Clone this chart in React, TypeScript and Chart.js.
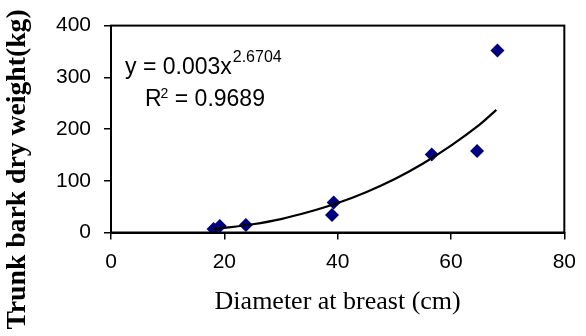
import React, { useEffect, useRef } from 'react';
import { Chart, registerables } from 'chart.js';

Chart.register(...registerables);

const diameters = [18.1, 19.2, 23.8, 39.0, 39.3, 56.6, 64.6, 68.2];
const weights = [6.7, 12.5, 14.5, 33.7, 58.2, 151, 157.6, 352];

const trendDiameters = [18, 20, 25, 30, 35, 40, 45, 50, 55, 60, 65, 68];
const trendWeights = [6.8, 9, 16, 26, 40, 57, 78, 103, 133, 168, 208, 237];

const xTicks = [0, 20, 40, 60, 80];
const yTicks = [0, 100, 200, 300, 400];

const equationMain = 'y = 0.003x';
const equationExp = '2.6704';
const r2Main = 'R';
const r2Exp = '2';
const r2Rest = ' = 0.9689';

const xTitle = 'Diameter at breast (cm)';
const yTitle = 'Trunk bark dry weight(kg)';

const SANS = '"Liberation Sans", Arial, sans-serif';
const SERIF = '"Liberation Serif", "Times New Roman", serif';

const framePlugin = {
  id: 'frame',
  afterDraw(chart: any) {
    const { ctx, chartArea } = chart;
    ctx.save();
    ctx.strokeStyle = '#000';
    ctx.lineWidth = 2;
    ctx.strokeRect(chartArea.left, chartArea.top, chartArea.right - chartArea.left, chartArea.bottom - chartArea.top);
    ctx.restore();
  },
};

const yTitlePlugin = {
  id: 'yTitle',
  afterDraw(chart: any) {
    const { ctx, height } = chart;
    ctx.save();
    ctx.translate(18, height / 2 + 1.5);
    ctx.rotate(-Math.PI / 2);
    ctx.fillStyle = '#000';
    ctx.textAlign = 'center';
    ctx.textBaseline = 'middle';
    ctx.font = `bold 27.7px ${SERIF}`;
    ctx.fillText(yTitle, 0, 0);
    ctx.restore();
  },
};

const equationPlugin = {
  id: 'equation',
  afterDraw(chart: any) {
    const { ctx, chartArea } = chart;
    ctx.save();
    ctx.fillStyle = '#000';
    ctx.textAlign = 'left';
    ctx.textBaseline = 'alphabetic';
    const x0 = chartArea.left + 14;
    const b1 = chartArea.top + 48;
    ctx.font = `23px ${SANS}`;
    ctx.fillText(equationMain, x0, b1);
    const w1 = ctx.measureText(equationMain).width;
    ctx.font = `16px ${SANS}`;
    ctx.fillText(equationExp, x0 + w1 + 1, b1 - 12);

    const x1 = chartArea.left + 34;
    const b2 = chartArea.top + 80;
    ctx.font = `23px ${SANS}`;
    ctx.fillText(r2Main, x1, b2);
    const wr = ctx.measureText(r2Main).width;
    ctx.font = `14px ${SANS}`;
    ctx.fillText(r2Exp, x1 + wr - 1, b2 - 8);
    const we = ctx.measureText(r2Exp).width;
    ctx.font = `23px ${SANS}`;
    ctx.fillText(r2Rest, x1 + wr + we - 1, b2);
    ctx.restore();
  },
};

export default function App() {
  const ref = useRef<HTMLCanvasElement>(null);
  useEffect(() => {
    if (!ref.current) return;
    const chart = new Chart(ref.current, {
      type: 'scatter',
      data: {
        datasets: [
          {
            type: 'line',
            data: trendDiameters.map((x, i) => ({ x, y: trendWeights[i] })),
            borderColor: '#000',
            borderWidth: 2.2,
            pointRadius: 0,
            tension: 0.3,
            fill: false,
            order: 0,
          } as any,
          {
            type: 'scatter',
            data: diameters.map((x, i) => ({ x, y: weights[i] })),
            backgroundColor: '#000080',
            borderColor: '#000080',
            pointStyle: 'rectRot',
            pointRadius: 7,
            borderWidth: 0,
            order: 1,
          },
        ],
      },
      options: {
        animation: false,
        responsive: true,
        maintainAspectRatio: false,
        layout: { padding: { top: 25, right: 20, left: 0, bottom: 0 } },
        plugins: {
          legend: { display: false },
          tooltip: { enabled: false },
        },
        scales: {
          x: {
            type: 'linear',
            min: 0,
            max: 80,
            afterBuildTicks: (s: any) => {
              s.ticks = xTicks.map((v) => ({ value: v }));
            },
            afterFit: (s: any) => {
              s.height = 103.5;
            },
            ticks: {
              color: '#000',
              font: { family: SANS, size: 21 },
              padding: 10,
            },
            grid: {
              drawOnChartArea: false,
              drawTicks: true,
              tickLength: 7,
              color: '#000',
              lineWidth: 1.5,
            },
            border: { color: '#000', width: 2 },
            title: {
              display: true,
              text: xTitle,
              color: '#000',
              font: { family: SERIF, size: 26 },
              padding: { top: 0, bottom: 18 },
            },
          },
          y: {
            type: 'linear',
            min: 0,
            max: 400,
            afterBuildTicks: (s: any) => {
              s.ticks = yTicks.map((v) => ({ value: v }));
            },
            afterFit: (s: any) => {
              s.width = 111;
            },
            ticks: {
              color: '#000',
              font: { family: SANS, size: 21 },
              padding: 13,
            },
            grid: {
              drawOnChartArea: false,
              drawTicks: true,
              tickLength: 7,
              color: '#000',
              lineWidth: 1.5,
            },
            border: { color: '#000', width: 2 },
            title: { display: false },
          },
        },
      },
      plugins: [framePlugin, equationPlugin, yTitlePlugin],
    });
    return () => chart.destroy();
  }, []);

  return (
    <div style={{ position: 'absolute', left: 0, top: 0, width: 586, height: 336, background: '#fff' }}>
      <canvas ref={ref} />
    </div>
  );
}
